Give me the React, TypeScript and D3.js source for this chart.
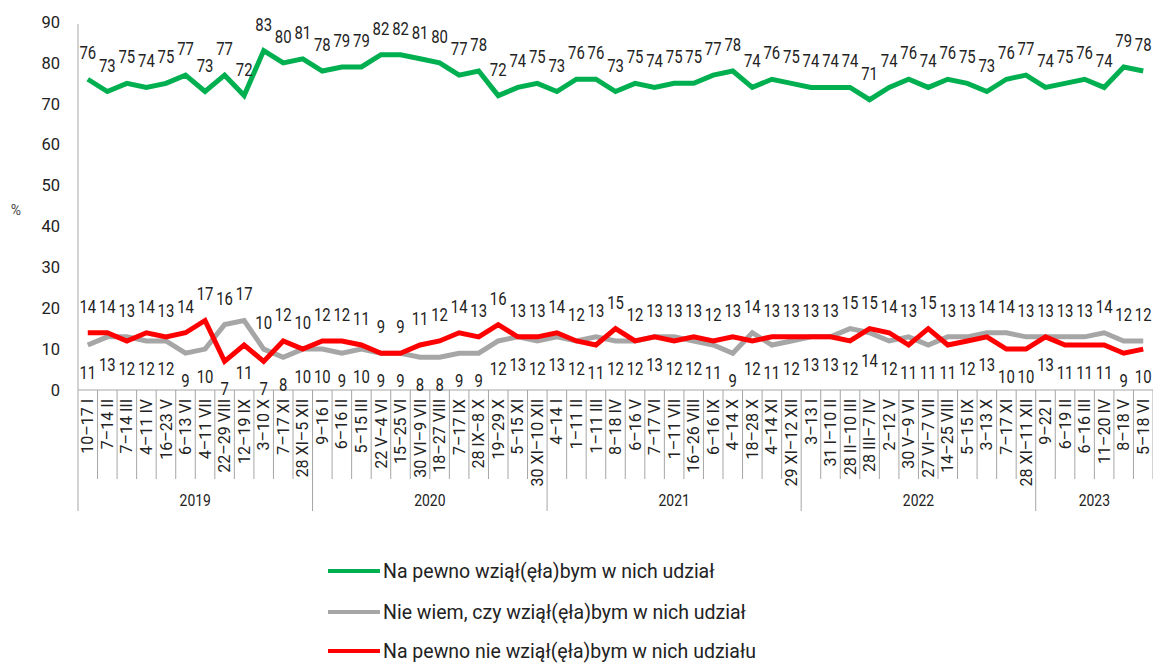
import { useEffect, useRef } from 'react';
import * as d3 from 'd3';

const years = ['2019', '2020', '2021', '2022', '2023'];
const yearCounts = [12, 12, 13, 12, 6];

const periods = [
  '10–17 I', '7–14 II', '7–14 III', '4–11 IV', '16–23 V', '6–13 VI', '4–11 VII', '22–29 VIII', '12–19 IX', '3–10 X', '7–17 XI', '28 XI–5 XII',
  '9–16 I', '6–16 II', '5–15 III', '22 V–4 VI', '15–25 VI', '30 VI–9 VII', '18–27 VIII', '7–17 IX', '28 IX–8 X', '19–29 X', '5–15 XI', '30 XI–10 XII',
  '4–14 I', '1–11 II', '1–11 III', '8–18 IV', '6–16 V', '7–17 VI', '1–11 VII', '16–26 VIII', '6–16 IX', '4–14 X', '18–28 X', '4–14 XI', '29 XI–12 XII',
  '3–13 I', '31 I–10 II', '28 II–10 III', '28 III–7 IV', '2–12 V', '30 V–9 VI', '27 VI–7 VII', '14–25 VIII', '5–15 IX', '3–13 X', '7–17 XI', '28 XI–11 XII',
  '9–22 I', '6–19 II', '6–16 III', '11–20 IV', '8–18 V', '5–18 VI',
];

const definitelyYes = [
  76, 73, 75, 74, 75, 77, 73, 77, 72, 83, 80, 81,
  78, 79, 79, 82, 82, 81, 80, 77, 78, 72, 74, 75,
  73, 76, 76, 73, 75, 74, 75, 75, 77, 78, 74, 76, 75,
  74, 74, 74, 71, 74, 76, 74, 76, 75, 73, 76, 77,
  74, 75, 76, 74, 79, 78,
];

const dontKnow = [
  11, 13, 13, 12, 12, 9, 10, 16, 17, 10, 8, 10,
  10, 9, 10, 9, 9, 8, 8, 9, 9, 12, 13, 12,
  13, 12, 13, 12, 12, 13, 13, 12, 11, 9, 14, 11, 12,
  13, 13, 15, 14, 12, 13, 11, 13, 13, 14, 14, 13,
  13, 13, 13, 14, 12, 12,
];

const definitelyNo = [
  14, 14, 12, 14, 13, 14, 17, 7, 11, 7, 12, 10,
  12, 12, 11, 9, 9, 11, 12, 14, 13, 16, 13, 13,
  14, 12, 11, 15, 12, 13, 12, 13, 12, 13, 12, 13, 13,
  13, 13, 12, 15, 14, 11, 15, 11, 12, 13, 10, 10,
  13, 11, 11, 11, 9, 10,
];

const seriesNames = [
  'Na pewno wziął(ęła)bym w nich udział',
  'Nie wiem, czy wziął(ęła)bym w nich udział',
  'Na pewno nie wziął(ęła)bym w nich udziału',
];
const seriesColors = ['#00b050', '#a6a6a6', '#ff0000'];

const yTicks = [0, 10, 20, 30, 40, 50, 60, 70, 80, 90];

const W = 1153;
const H = 665;
const font = "Roboto, 'Liberation Sans', Arial, sans-serif";

export default function App() {
  const svgRef = useRef<SVGSVGElement>(null);

  useEffect(() => {
    if (!svgRef.current) return;
    const svg = d3.select(svgRef.current);
    svg.selectAll('*').remove();

    const left = 78;
    const right = 1153;
    const top = 22;
    const bottom = 390;

    const x = d3.scaleBand<number>().domain(d3.range(periods.length)).range([left, right]).padding(0);
    const y = d3.scaleLinear().domain([0, 90]).range([bottom, top]);
    const cx = (i: number) => (x(i) as number) + x.bandwidth() / 2;

    // y axis labels
    svg.append('g')
      .selectAll('text')
      .data(yTicks)
      .enter()
      .append('text')
      .attr('x', 60)
      .attr('y', d => y(d))
      .attr('dy', '0.35em')
      .attr('text-anchor', 'end')
      .style('font-family', font)
      .style('font-size', '16.5px')
      .attr('fill', '#222')
      .text(d => d);

    svg.append('text')
      .attr('x', 16)
      .attr('y', 210)
      .attr('dy', '0.35em')
      .attr('text-anchor', 'middle')
      .style('font-family', font)
      .style('font-size', '14px')
      .attr('fill', '#444')
      .text('%');

    const axisColor = '#a6a6a6';
    svg.append('line')
      .attr('x1', left).attr('x2', left)
      .attr('y1', top + 2).attr('y2', bottom)
      .attr('stroke', axisColor).attr('stroke-width', 1);
    svg.append('line')
      .attr('x1', left).attr('x2', right)
      .attr('y1', bottom).attr('y2', bottom)
      .attr('stroke', axisColor).attr('stroke-width', 1);

    // category separators
    const yearStarts = d3.cumsum([0, ...yearCounts]).slice(0, -1);
    const yearEnds = d3.cumsum(yearCounts);
    const boundaries = d3.range(periods.length + 1);
    svg.append('g')
      .selectAll('line')
      .data(boundaries)
      .enter()
      .append('line')
      .attr('x1', i => left + i * x.bandwidth())
      .attr('x2', i => left + i * x.bandwidth())
      .attr('y1', bottom)
      .attr('y2', i => (yearStarts.includes(i) ? 511 : 479))
      .attr('stroke', axisColor)
      .attr('stroke-width', 1);

    // category labels
    svg.append('g')
      .selectAll('text')
      .data(periods)
      .enter()
      .append('text')
      .attr('transform', (_, i) => `translate(${cx(i)},${bottom + 9}) rotate(-90)`)
      .attr('dy', '0.35em')
      .attr('text-anchor', 'end')
      .style('font-family', font)
      .style('font-size', '16px')
      .attr('fill', '#222')
      .text(d => d);

    // year labels (narrowed a little to look condensed)
    svg.append('g')
      .selectAll('text')
      .data(years)
      .enter()
      .append('text')
      .attr('transform', (_, i) =>
        `translate(${left + ((yearStarts[i] + yearEnds[i]) / 2) * x.bandwidth()},500) scale(0.82,1)`)
      .attr('dy', '0.35em')
      .attr('text-anchor', 'middle')
      .style('font-family', font)
      .style('font-size', '17px')
      .attr('fill', '#222')
      .text(d => d);

    const allSeries = [definitelyYes, dontKnow, definitelyNo];
    const line = d3.line<number>().x((_, i) => cx(i)).y(d => y(d));

    [1, 2, 0].forEach(s => {
      svg.append('path')
        .datum(allSeries[s])
        .attr('d', line)
        .attr('fill', 'none')
        .attr('stroke', seriesColors[s])
        .attr('stroke-width', 5)
        .attr('stroke-linejoin', 'miter');
    });

    // data labels
    const labelG = svg.append('g')
      .style('font-family', font)
      .style('font-size', '17.5px')
      .attr('fill', '#222')
      .attr('text-anchor', 'middle');

    const placeLabel = (px: number, py: number) => `translate(${px},${py}) scale(0.85,1)`;

    labelG.append('g')
      .selectAll('text')
      .data(definitelyYes)
      .enter()
      .append('text')
      .attr('transform', (d, i) => placeLabel(cx(i), y(d) - 20))
      .text(d => d);

    const above = (s: number, i: number) => {
      const r = definitelyNo[i];
      const g = dontKnow[i];
      return s === 2 ? r >= g : g > r;
    };

    [1, 2].forEach(s => {
      labelG.append('g')
        .selectAll('text')
        .data(allSeries[s])
        .enter()
        .append('text')
        .attr('transform', (d, i) => placeLabel(cx(i), above(s, i) ? y(d) - 20 : y(d) + 34))
        .text(d => d);
    });

    // legend
    const legend = svg.append('g');
    const legendY = [571, 612, 651];
    seriesNames.forEach((name, s) => {
      legend.append('line')
        .attr('x1', 328).attr('x2', 380)
        .attr('y1', legendY[s]).attr('y2', legendY[s])
        .attr('stroke', seriesColors[s])
        .attr('stroke-width', 4);
      legend.append('text')
        .attr('x', 383)
        .attr('y', legendY[s])
        .attr('dy', '0.35em')
        .style('font-family', font)
        .style('font-size', '19.5px')
        .attr('fill', '#222')
        .text(name);
    });
  }, []);

  return (
    <svg
      ref={svgRef}
      width={W}
      height={H}
      style={{ position: 'absolute', left: 0, top: 0, background: '#fff' }}
    />
  );
}
